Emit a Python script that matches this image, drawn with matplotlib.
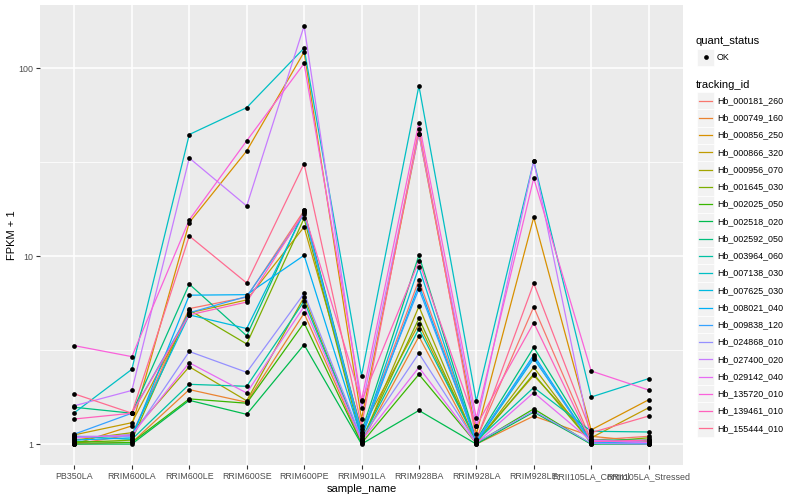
'''
FPKM profiles per sample, ggplot-like look
'''
import matplotlib
matplotlib.use('Agg')
import matplotlib.pyplot as plt
from matplotlib.patches import Rectangle
from matplotlib.lines import Line2D
import numpy as np

plt.rcParams['font.family'] = ['Liberation Sans', 'DejaVu Sans']

samples = ['PB350LA', 'RRIM600LA', 'RRIM600LE', 'RRIM600SE', 'RRIM600PE',
           'RRIM901LA', 'RRIM928BA', 'RRIM928LA', 'RRIM928LE',
           'RRII105LA_Control', 'RRII105LA_Stressed']

tracking_ids = ['Hb_000181_260', 'Hb_000749_160', 'Hb_000856_250', 'Hb_000866_320',
                'Hb_000956_070', 'Hb_001645_030', 'Hb_002025_050', 'Hb_002518_020',
                'Hb_002592_050', 'Hb_003964_060', 'Hb_007138_030', 'Hb_007625_030',
                'Hb_008021_040', 'Hb_009838_120', 'Hb_024868_010', 'Hb_027400_020',
                'Hb_029142_040', 'Hb_135720_010', 'Hb_139461_010', 'Hb_155444_010']

# ggplot hue palette, 20 levels
colors = ['#F8766D', '#EA8331', '#D89000', '#C09B00', '#A3A500', '#7CAE00',
          '#39B600', '#00BB4E', '#00BF7D', '#00C1A3', '#00BFC4', '#00BAE0',
          '#00B0F6', '#35A2FF', '#9590FF', '#C77CFF', '#E76BF3', '#FA62DB',
          '#FF62BC', '#FF6C91']

# FPKM + 1, one list per tracking id, in sample order
hb_000181_260 = [1.00, 1.12, 5.26, 6.05, 17.5, 1.12, 7.46, 1.06, 5.37, 1.05, 1.10]
hb_000749_160 = [1.00, 1.02, 1.95, 1.67, 4.97, 1.02, 3.74, 1.00, 1.41, 1.10, 1.03]
hb_000856_250 = [1.00, 1.25, 15.1, 36.3, 122.0, 1.36, 44.9, 1.13, 16.1, 1.19, 1.72]
hb_000866_320 = [1.12, 1.30, 4.99, 5.85, 14.3, 1.20, 4.35, 1.03, 2.32, 1.08, 1.56]
hb_000956_070 = [1.05, 1.15, 2.58, 1.70, 6.05, 1.03, 5.40, 1.01, 2.56, 1.01, 1.00]
hb_001645_030 = [1.02, 1.05, 5.17, 3.41, 15.9, 1.05, 4.66, 1.02, 2.36, 1.02, 1.08]
hb_002025_050 = [1.03, 1.02, 1.74, 1.65, 4.42, 1.01, 2.35, 1.01, 1.54, 1.00, 1.05]
hb_002518_020 = [1.00, 1.00, 1.71, 1.44, 3.38, 1.00, 1.51, 1.00, 1.48, 1.00, 1.00]
hb_002592_050 = [1.57, 1.46, 7.10, 3.77, 17.5, 1.16, 10.1, 1.05, 3.27, 1.05, 1.05]
hb_003964_060 = [1.10, 1.06, 2.08, 2.03, 5.76, 1.05, 4.11, 1.04, 2.00, 1.17, 1.16]
hb_007138_030 = [1.47, 2.50, 44.4, 61.7, 128.0, 2.31, 80.6, 1.69, 32.1, 1.78, 2.23]
hb_007625_030 = [1.08, 1.12, 4.87, 4.12, 17.1, 1.10, 8.75, 1.02, 2.85, 1.03, 1.02]
hb_008021_040 = [1.05, 1.08, 6.20, 6.24, 10.1, 1.08, 7.03, 1.03, 2.98, 1.02, 1.01]
hb_009838_120 = [1.13, 1.46, 5.00, 6.10, 16.8, 1.15, 6.70, 1.04, 2.90, 1.01, 1.01]
hb_024868_010 = [1.10, 1.10, 3.11, 2.41, 6.33, 1.07, 3.04, 1.02, 1.50, 1.01, 1.00]
hb_027400_020 = [1.60, 1.93, 33.3, 18.5, 168.0, 1.55, 44.9, 1.25, 32.1, 1.05, 1.02]
hb_029142_040 = [1.08, 1.12, 2.71, 1.87, 5.40, 1.04, 2.56, 1.01, 1.88, 1.04, 1.02]
hb_135720_010 = [3.34, 2.92, 15.6, 41.1, 106.0, 1.71, 51.4, 1.37, 26.0, 2.45, 1.94]
hb_139461_010 = [1.36, 1.46, 4.87, 5.70, 17.1, 1.69, 9.40, 1.25, 4.42, 1.03, 1.05]
hb_155444_010 = [1.85, 1.46, 12.8, 7.20, 31.0, 1.25, 47.7, 1.05, 7.17, 1.15, 1.41]

series = [hb_000181_260, hb_000749_160, hb_000856_250, hb_000866_320, hb_000956_070,
          hb_001645_030, hb_002025_050, hb_002518_020, hb_002592_050, hb_003964_060,
          hb_007138_030, hb_007625_030, hb_008021_040, hb_009838_120, hb_024868_010,
          hb_027400_020, hb_029142_040, hb_135720_010, hb_139461_010, hb_155444_010]

W, H = 800, 500
fig = plt.figure(figsize=(W / 100, H / 100), dpi=100)
fig.patch.set_facecolor('white')
ax = fig.add_axes([40 / W, (H - 465) / H, 643 / W, 460 / H])
ax.set_facecolor('#EBEBEB')

x = np.arange(len(samples))
for vals, col in zip(series, colors):
    ax.plot(x, vals, color=col, lw=0.9, zorder=2)
for vals in series:
    ax.plot(x, vals, 'o', color='black', ms=3.4, mec='none', zorder=3)

ax.set_yscale('log')
logs = np.log10(np.concatenate(series))
span = logs.max() - logs.min()
ax.set_ylim(10 ** (logs.min() - 0.05 * span), 10 ** (logs.max() + 0.05 * span))
ax.set_xlim(-0.6, len(samples) - 1 + 0.6)

ax.set_yticks([1, 10, 100])
ax.set_yticklabels(['1', '10', '100'])
ax.set_yticks([10 ** 0.5, 10 ** 1.5], minor=True)
ax.yaxis.set_minor_formatter(plt.NullFormatter())
ax.set_xticks(x)
ax.set_xticklabels(samples)

ax.grid(True, which='major', color='white', lw=1.1, zorder=0)
ax.grid(True, which='minor', axis='y', color='white', lw=0.55, zorder=0)
ax.set_axisbelow(True)
for s in ax.spines.values():
    s.set_visible(False)
ax.tick_params(which='major', length=3, width=0.8, color='#333333',
               labelsize=6.4, labelcolor='#4D4D4D', pad=2)
ax.tick_params(which='minor', length=0)

ax.set_xlabel('sample_name', fontsize=8, labelpad=2)
ax.set_ylabel('FPKM + 1', fontsize=8, labelpad=1)

# legends, drawn in pixel space on an overlay
lg = fig.add_axes([0, 0, 1, 1], facecolor='none')
lg.set_xlim(0, W)
lg.set_ylim(H, 0)
lg.axis('off')

lg.text(696, 41, 'quant_status', fontsize=8, va='center', ha='left')
lg.add_patch(Rectangle((697, 48.5), 17, 17, fc='#F2F2F2', ec='white', lw=0.5))
lg.add_line(Line2D([705.5], [57], marker='o', color='black', ms=3.4, mec='none'))
lg.text(717, 57.3, 'OK', fontsize=6.4, va='center', ha='left')

lg.text(696, 84.5, 'tracking_id', fontsize=8, va='center', ha='left')
step = 17.24
for i, (tid, col) in enumerate(zip(tracking_ids, colors)):
    yc = 100.7 + i * step
    lg.add_patch(Rectangle((697, yc - step / 2), 17, step, fc='#F2F2F2', ec='white', lw=0.5))
    lg.add_line(Line2D([699, 712], [yc, yc], color=col, lw=0.9))
    lg.text(717, yc, tid, fontsize=6.4, va='center', ha='left')

fig.savefig('out.png', dpi=100)
